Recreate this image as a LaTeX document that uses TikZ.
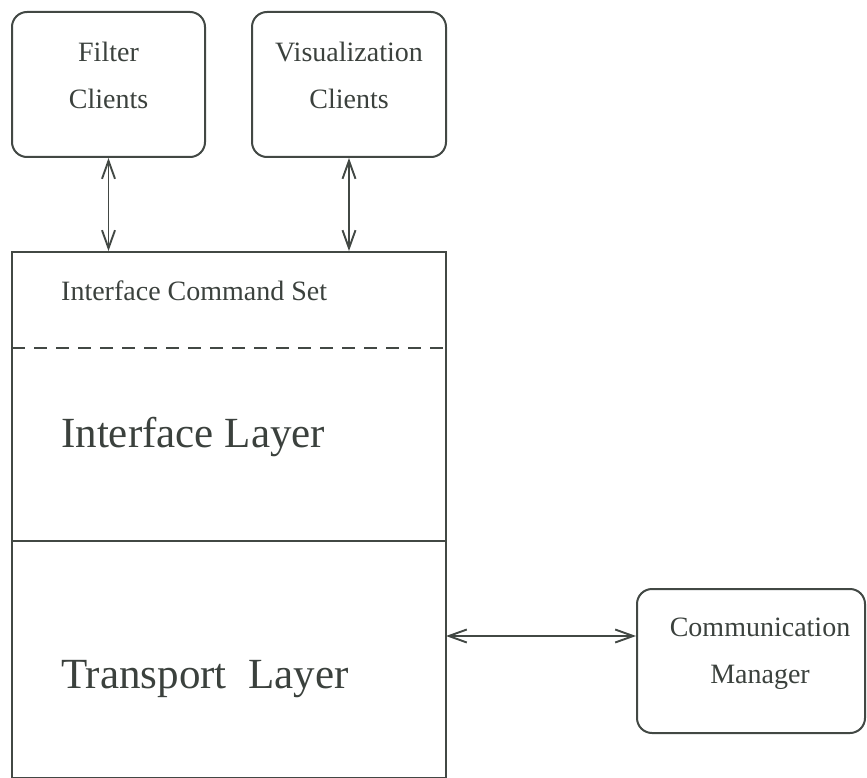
\documentclass[tikz,border=0pt]{standalone}
\usepackage{fontspec}
\setmainfont{Liberation Serif}
\usetikzlibrary{arrows.meta}
\definecolor{ink}{RGB}{66,72,68}
\tikzset{
  client/.style={draw=ink, line width=2pt, rounded corners=15pt, inner sep=0pt},
  layer/.style={draw=ink, line width=2pt, inner sep=0pt},
  small/.style={text=ink!90!black, font=\fontsize{28}{30}\selectfont, inner sep=0pt},
  big/.style={text=ink!90!black, font=\fontsize{43}{46}\selectfont, inner sep=0pt, anchor=base west},
  link/.style={draw=ink, line width=1.9pt, {Straight Barb[length=18pt,width=13pt,line width=1.9pt]}-{Straight Barb[length=18pt,width=13pt,line width=1.9pt]}}
}
\begin{document}
\begin{tikzpicture}[x=1pt,y=-1pt]
\useasboundingbox (0,0) rectangle (867,778);

% client boxes
\node[client, minimum width=193pt, minimum height=145pt] (filter) at (108.5,84.5) {};
\node[client, minimum width=194pt, minimum height=145pt] (vis) at (349,84.5) {};
\node[small, anchor=base] (filterA) at (108.5,62) {Filter};
\node[small, anchor=base] (filterB) at (108.5,109) {Clients};
\node[small, anchor=base] (visA) at (349,62) {Visualization};
\node[small, anchor=base] (visB) at (349,109) {Clients};

% layered stack
\node[layer, minimum width=434pt, minimum height=526pt] (stack) at (229,515) {};
\coordinate (dashL) at (12,348);
\coordinate (dashR) at (446,348);
\coordinate (splitL) at (12,541);
\coordinate (splitR) at (446,541);
\draw[ink, line width=1.8pt, dash pattern=on 13pt off 9pt] (dashL) -- (dashR);
\draw[ink, line width=2pt] (splitL) -- (splitR);
\node[small, anchor=base west] (cmdset) at (61,300) {Interface Command Set};
\node[big] (iface) at (61,447) {Interface Layer};
\node[big] (transport) at (61,688) {Transport\ \ Layer};

% communication manager
\node[client, minimum width=228pt, minimum height=144pt] (comm) at (751,661) {};
\node[small, anchor=base] (commA) at (760,636) {Communication};
\node[small, anchor=base] (commB) at (760,683) {Manager};

% connectors
\draw[link] (filter.south) -- (filter.south |- stack.north);
\draw[link] (vis.south) -- (vis.south |- stack.north);
\coordinate (hook) at (446,636);
\draw[link] (hook) -- (hook -| comm.west);
\end{tikzpicture}
\end{document}
